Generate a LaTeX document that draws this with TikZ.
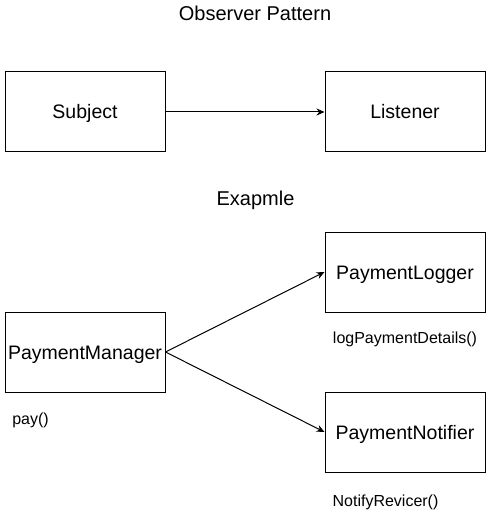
\documentclass[tikz,border=0pt]{standalone}
\usepackage{fontspec}
\setmainfont{Liberation Sans}
\usetikzlibrary{arrows.meta}
\begin{document}
\begin{tikzpicture}[x=1pt,y=-1pt,
  box/.style={draw, line width=1pt, minimum width=160pt, minimum height=80pt, inner sep=0pt,
    font=\fontsize{19.5}{22}\selectfont, text height=14pt, text depth=0pt},
  heading/.style={anchor=base, inner sep=0pt, font=\fontsize{20}{24}\selectfont},
  method/.style={anchor=base, inner sep=0pt, font=\fontsize{16}{19}\selectfont},
  conn/.style={line width=1pt, -{Stealth[length=8pt,width=7pt]}}]
\useasboundingbox (0,0) rectangle (487,513);
\node[heading] (t1) at (255,21) {Observer Pattern};
\node[box] (sub) at (85,112) {Subject};
\node[box] (lis) at (405,112) {Listener};
\draw[conn] (sub.east) -- (lis.west);
\node[heading] (t2) at (255.5,205.5) {Exapmle};
\node[box] (pm) at (85,352) {PaymentManager};
\node[box] (pl) at (405,272) {PaymentLogger};
\node[box] (pn) at (405,432) {PaymentNotifier};
\draw[conn] (pm.east) -- (pl.west);
\draw[conn] (pm.east) -- (pn.west);
\node[method] (m1) at (30.5,424) {pay()};
\node[method] (m2) at (405,343) {logPaymentDetails()};
\node[method] (m3) at (385.5,506) {NotifyRevicer()};
\end{tikzpicture}
\end{document}
